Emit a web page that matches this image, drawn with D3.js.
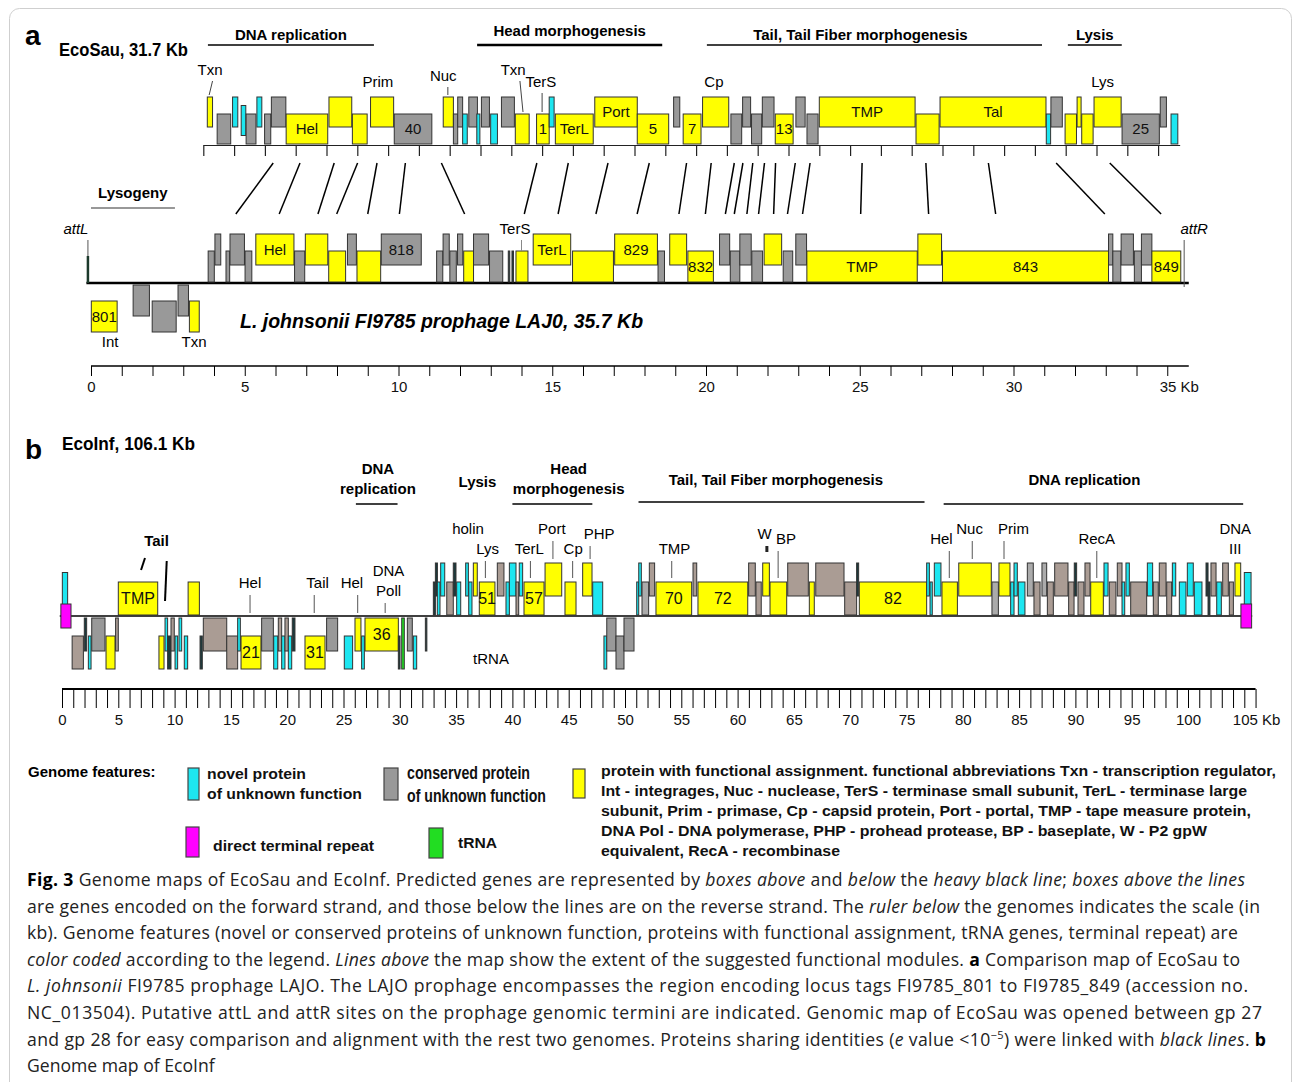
<!DOCTYPE html>
<html lang="en">
<head>
<meta charset="utf-8">
<title>Genome maps of EcoSau and EcoInf</title>
<script src="https://d3js.org/d3.v7.min.js"></script>
<style>
  body { margin: 0; background: #fff; }
</style>
</head>
<body>
<script>
// ---------- data (positions in kb) ----------
// [start, end, tier, type, label]; tier >= 0 forward strand, < 0 reverse strand
var ecoSauGenes = [
  [0.13,0.30,1,'y'],[0.45,0.89,0,'g'],[0.95,1.12,1,'c'],[1.23,1.38,0.5,'c'],[1.39,1.71,0,'g'],
  [1.74,1.90,1,'c'],[1.99,2.19,0,'g'],[2.21,2.68,1,'g'],[2.69,4.04,0,'y','Hel'],[4.08,4.82,1,'y'],
  [4.84,5.32,0,'y'],[5.43,6.18,1,'y'],[6.20,7.42,0,'g','40'],[7.79,8.12,1,'y'],[8.12,8.26,0,'g'],
  [8.26,8.42,1,'g'],[8.42,8.57,0,'c'],[8.62,8.90,1,'g'],[8.88,8.98,0,'c'],[9.03,9.29,1,'g'],
  [9.33,9.55,0,'c'],[9.68,10.10,1,'g'],[10.13,10.58,0,'y'],[10.82,11.23,0,'y','1'],[11.23,11.39,1,'c'],
  [11.43,12.66,0,'y','TerL'],[12.71,14.09,1,'y','Port'],[14.09,15.11,0,'y','5'],[15.27,15.47,1,'g'],
  [15.58,16.16,0,'y','7'],[16.21,17.06,1,'y'],[17.13,17.48,0,'g'],[17.51,17.77,1,'g'],[17.80,18.13,0,'g'],
  [18.15,18.53,1,'g'],[18.57,19.15,0,'y','13'],[19.24,19.54,1,'g'],[19.60,19.96,0,'g'],
  [20.00,23.11,1,'y','TMP'],[23.14,23.89,0,'y'],[23.92,27.36,1,'y','Tal'],[27.37,27.51,0,'c'],
  [27.52,27.89,1,'g'],[27.98,28.35,0,'y'],[28.37,28.50,1,'y'],[28.52,28.89,0,'y'],[28.92,29.80,1,'y'],
  [29.83,31.04,0,'g','25'],[31.07,31.27,1,'g'],[31.42,31.64,0,'c']
];

var lajGenes = [
  [0.01,0.85,-2,'y','801'],[1.37,1.90,-1,'g'],[1.99,2.77,-2,'g'],[2.83,3.17,-1,'g'],[3.20,3.52,-2,'y'],
  [3.81,4.01,0,'g'],[4.03,4.22,1,'g'],[4.39,4.51,0,'g'],[4.52,4.99,1,'g'],[5.01,5.23,0,'g'],
  [5.36,6.60,1,'y','Hel'],[6.62,6.95,0,'g'],[6.97,7.70,1,'y'],[7.73,8.28,0,'y'],[8.34,8.63,1,'g'],
  [8.65,9.42,0,'y'],[9.44,10.74,1,'g','818'],[11.24,11.44,0,'g'],[11.45,11.65,1,'g'],[11.67,11.88,0,'g'],
  [11.92,12.09,1,'g'],[12.12,12.44,0,'y'],[12.44,12.93,1,'g'],[12.96,13.39,0,'g'],[13.57,13.61,0,'k'],
  [13.69,13.73,0,'k'],[13.82,14.21,0,'y'],[14.38,15.60,1,'y','TerL'],[15.66,16.99,0,'y'],
  [17.03,18.42,1,'y','829'],[18.44,18.65,0,'g'],[18.82,19.37,1,'y'],[19.41,20.24,0,'y','832'],
  [20.44,20.77,1,'g'],[20.79,21.10,0,'g'],[21.10,21.47,1,'g'],[21.49,21.84,0,'g'],[21.89,22.46,1,'y'],
  [22.51,22.82,0,'g'],[22.92,23.27,1,'g'],[23.28,26.87,0,'y','TMP'],[26.89,27.66,1,'y'],
  [27.69,33.09,0,'y','843'],[33.09,33.23,1,'g'],[33.23,33.49,0,'g'],[33.50,33.90,1,'g'],
  [33.93,34.16,0,'g'],[34.16,34.50,1,'g'],[34.50,35.44,0,'y','849']
];

var ecoInfGenes = [
  [0.03,0.50,0.5,'c'],[5.0,8.5,0,'y','TMP'],[11.2,12.2,0,'y'],
  [32.98,33.16,0,'k'],[33.16,33.34,1,'k'],[33.33,33.57,0,'c'],[33.63,33.99,1,'c'],[34.17,34.75,0,'t'],
  [34.75,34.99,1,'k'],[35.05,35.41,0,'c'],[35.85,36.09,1,'c'],[36.12,36.41,0,'c'],[36.53,36.88,1,'y'],
  [37.06,38.45,0,'y','51'],[38.66,39.25,1,'t'],[39.43,39.73,0,'c'],[39.73,40.32,1,'c'],[40.32,40.56,0,'t'],
  [40.61,40.91,1,'c'],[41.03,42.81,0,'y','57'],[42.90,44.38,1,'y'],[44.67,45.65,0,'y'],[46.24,47.07,1,'y'],
  [47.13,48.02,0,'c'],
  [51.04,51.22,0,'c'],[51.22,51.45,1,'c'],[51.51,52.10,0,'lg'],[52.16,52.63,1,'t'],[52.75,55.92,0,'y','70'],
  [56.04,56.37,1,'t'],[56.48,60.90,0,'y','72'],[60.98,61.57,1,'t'],[61.63,62.10,0,'t'],[62.23,62.82,1,'y'],
  [62.88,64.36,0,'y'],[64.45,66.28,1,'t'],[66.37,66.81,0,'y'],[66.94,69.45,1,'t'],[69.51,70.57,0,'t'],
  [70.57,70.75,1,'k'],[70.81,76.79,0,'y','82'],[76.79,77.03,1,'c'],[77.09,77.29,0,'c'],[77.47,78.06,1,'c'],
  [78.15,79.52,0,'y'],[79.64,82.53,1,'y'],[82.59,83.16,0,'lg'],[83.21,84.19,1,'y'],[84.25,84.55,0,'c'],
  [84.55,84.84,1,'c'],[84.93,85.52,0,'c'],[85.73,86.26,1,'lg'],[86.32,86.86,0,'t'],[87.03,87.45,1,'lg'],
  [87.51,88.04,0,'t'],[88.16,89.34,1,'t'],[89.40,89.88,0,'t'],[89.90,90.11,1,'k'],[90.23,90.76,0,'t'],
  [90.85,91.30,1,'t'],[91.36,92.48,0,'y'],[92.54,92.90,1,'c'],[93.01,93.60,0,'t'],[93.72,94.14,1,'t'],
  [94.14,94.38,0,'c'],[94.49,94.79,1,'c'],[94.91,96.33,0,'t'],[96.39,96.86,1,'c'],[96.92,97.36,0,'t'],
  [97.45,98.05,1,'t'],[98.11,98.55,0,'t'],[98.61,98.91,1,'c'],[99.23,99.82,0,'c'],[99.94,100.47,1,'c'],
  [100.56,101.24,0,'c'],[101.60,101.78,1,'k'],[101.78,101.95,0,'k'],[102.04,102.49,1,'t'],
  [102.55,102.96,0,'c'],[103.08,103.58,1,'t'],[103.67,104.03,0,'t'],[104.17,104.68,1,'y'],
  [105.0,105.6,0.5,'c'],
  // reverse strand
  [0.9,1.9,-2,'t'],[1.98,2.19,-1,'k'],[2.34,2.58,-2,'c'],[2.64,3.82,-1,'g'],[3.91,4.71,-2,'y'],
  [4.76,5.0,-1,'t'],[8.61,9.06,-2,'y'],[9.15,9.38,-1,'c'],[9.38,9.68,-2,'k'],[9.68,9.97,-1,'t'],
  [10.04,10.27,-2,'c'],[10.39,10.63,-1,'c'],[10.86,11.16,-2,'c'],[12.26,12.46,-2,'k'],
  [12.55,14.63,-1,'t'],[14.63,15.60,-2,'t'],[15.60,15.84,-1,'c'],[15.90,17.67,-2,'y','21'],
  [17.73,18.77,-1,'g'],[18.80,19.16,-2,'c'],[19.21,19.51,-1,'t'],[19.51,19.80,-2,'c'],[19.80,20.10,-1,'t'],
  [20.10,20.40,-2,'c'],[20.45,20.69,-1,'k'],[21.58,23.36,-2,'y','31'],[23.50,24.48,-1,'g'],
  [25.07,25.81,-2,'c'],[26.02,26.55,-1,'y'],[26.61,26.85,-2,'c'],[26.91,29.87,-1,'y','36'],
  [29.87,30.02,-2,'k'],[30.17,30.40,-1,'r'],[30.67,31.11,-1,'g'],[31.20,31.50,-2,'c'],[32.27,32.35,-1,'k'],
  [48.13,48.38,-2,'c'],[48.38,49.20,-1,'g'],[49.20,49.91,-2,'g'],[49.91,50.80,-1,'g'],
  // direct terminal repeats
  [-0.1,0.8,0,'m'],[104.7,105.65,0,'m']
];

// [EcoSau kb, LAJ0 kb]
var links = [
  [2.27,4.71],[3.14,6.12],[4.25,7.38],[5.01,7.99],[5.64,9.00],[6.56,10.03],[7.73,12.15],
  [10.83,14.09],[11.85,15.19],[13.14,16.42],[14.48,17.76],[15.69,19.12],[16.49,19.98],
  [17.24,20.63],[17.52,20.92],[17.84,21.33],[18.22,21.71],[18.58,22.20],[19.22,22.65],
  [19.70,23.14],[21.39,25.03],[23.46,27.24],[25.49,29.42],[27.69,32.97],[29.43,34.80]
];

// module name, line start kb, line end kb
var modulesA = [
  ["DNA replication",0.15,5.54],["Head morphogenesis",8.89,14.9],
  ["Tail, Tail Fiber morphogenesis",16.35,27.23],["Lysis",28.07,29.82]
];
// text lines, text kb, line start kb, line end kb
var modulesB = [
  [["DNA","replication"],28.06,26.1,29.8],[["Lysis"],36.9,null,null],
  [["Head","morphogenesis"],45.0,40.0,47.1],[["Tail, Tail Fiber morphogenesis"],63.4,51.2,76.6],
  [["DNA replication"],90.8,78.3,104.9]
];
var lysogeny = ["Lysogeny",1.36,0,2.73];
var attSites = [["attL",-0.1],["attR",35.55]];

// label, text kb, row, leader top kb, leader bottom kb, target tier
var annEco = [
  ["Txn",0.22,2,0.30,0.19,1],["Prim",5.67,0],["Nuc",7.79,1,7.94,7.94,1],
  ["Txn",10.06,2,10.28,10.38,0],["TerS",10.96,0,11.0,11.0,0],["Cp",16.58,0],["Lys",29.2,0]
];
var annLaj = [["TerS",13.79,14.0]];
var annLajBelow = [["Int",0.62],["Txn",3.35]];
// label lines, text kb, row, leader kb, target ('b' = backbone, number = tier)
var annInf = [
  [["Hel"],16.7,5,16.7,'b'],[["Tail"],22.7,5,22.4,'b'],[["Hel"],25.75,5,26.26,'b'],
  [["DNA","Poll"],29.0,4,28.7,'b'],[["holin"],36.06,0,null],[["Lys"],37.8,3,37.6,0],
  [["TerL"],41.5,3,41.6,0],[["Port"],43.5,0,43.6,1],[["Cp"],45.4,3,45.35,0],[["PHP"],47.7,1,46.9,1],
  [["TMP"],54.4,3,54.15,0],[["W"],62.4,1,62.6,1],[["BP"],64.3,2,63.6,0],[["Hel"],78.1,2,78.8,0],
  [["Nuc"],80.6,0,80.84,1],[["Prim"],84.5,0,83.66,1],[["RecA"],91.9,2,91.9,0],[["DNA","III"],104.2,0,null]
];
var tailLeaders = [[7.37,7.02],[9.3,9.15]];

var rulerATicks = d3.range(0, 36);
var rulerBTicks = d3.range(0, 107);

var legendItems = [
  ['c',["novel protein","of unknown function"]],
  ['g',["conserved protein","of unknown function"]],
  ['y',["protein with functional assignment. functional abbreviations Txn - transcription regulator,",
        "Int - integrages, Nuc - nuclease, TerS - terminase small subunit, TerL - terminase large",
        "subunit,  Prim - primase, Cp - capsid protein, Port - portal, TMP - tape measure protein,",
        "DNA Pol - DNA polymerase, PHP - prohead protease, BP - baseplate, W - P2 gpW",
        "equivalent, RecA - recombinase"]],
  ['m',["direct terminal repeat"]],
  ['r',["tRNA"]]
];

var captionLines = [
  [["Fig. 3","b"],["  Genome maps of EcoSau and EcoInf. Predicted genes are represented by ",""],["boxes above","i"],[" and ",""],["below","i"],[" the ",""],["heavy black line","i"],["; ",""],["boxes above the lines","i"]],
  [["are genes encoded on the forward strand, and those below the lines are on the reverse strand. The ",""],["ruler below","i"],[" the genomes indicates the scale (in",""]],
  [["kb). Genome features (novel or conserved proteins of unknown function, proteins with functional assignment, tRNA genes, terminal repeat) are",""]],
  [["color coded","i"],[" according to the legend. ",""],["Lines above","i"],[" the map show the extent of the suggested functional modules. ",""],["a","b"],[" Comparison map of EcoSau to",""]],
  [["L. johnsonii","i"],[" FI9785 prophage LAJO. The LAJO prophage encompasses the region encoding locus tags FI9785_801 to FI9785_849 (accession no.",""]],
  [["NC_013504). Putative attL and attR sites on the prophage genomic termini are indicated. Genomic map of EcoSau was opened between gp 27",""]],
  [["and gp 28 for easy comparison and alignment with the rest two genomes. Proteins sharing identities (",""],["e","i"],[" value <10",""],["\u22125","sup"],[") were linked with ",""],["black lines","i"],[". ",""],["b","b"]],
  [["Genome map of EcoInf",""]]
];

// ---------- drawing ----------
var W = 1295, H = 1082;
var sans = "'Liberation Sans', Arial, sans-serif";
var narrow = "'Liberation Sans Narrow', 'Arial Narrow', 'Liberation Sans', sans-serif";
var fill = {y:"#ffff00", c:"#1de6f0", g:"#999999", t:"#aa9c94", lg:"#ababab", k:"#1c3a3c", m:"#ff00ff", r:"#22dd22"};

var svg = d3.select("body").append("svg").attr("width", W).attr("height", H)
  .style("font-family", sans);

svg.append("rect").attr("x", 9.5).attr("y", 8.5).attr("width", 1282).attr("height", 1100)
  .attr("rx", 10).attr("fill", "none").attr("stroke", "#cfcfcf");

var xEco = d3.scaleLinear().domain([0, 31.7]).range([203.3, 203.3 + 31.7 * 30.8]);
var xLaj = d3.scaleLinear().domain([0, 35]).range([91, 91 + 35 * 30.75]);
var xInf = d3.scaleLinear().domain([0, 105]).range([62, 62 + 105 * 11.26]);

var cfgEco = {base: 145, h: 30, step: 17, rstep: 16, fs: 15};
var cfgLaj = {base: 283, h: 31, step: 17, rstep: 16, fs: 15};
var cfgInf = {base: 616, h: 33, step: 19, rstep: 18, fs: 16};

function tierTop(t, cfg) {
  if (t >= 0) return cfg.base - 1 - cfg.h - t * cfg.step;
  return cfg.base + 2 + (-t - 1) * cfg.rstep;
}

function drawGenes(genes, x, cfg) {
  var g = svg.append("g");
  g.selectAll("rect").data(genes).enter().append("rect")
    .attr("x", function(d) { return x(d[0]); })
    .attr("width", function(d) { return Math.max(1.5, x(d[1]) - x(d[0])); })
    .attr("y", function(d) { return d[3] == 'm' ? cfg.base - 12 : tierTop(d[2], cfg); })
    .attr("height", function(d) {
      if (d[3] == 'm') return 24;
      if (d[3] == 'r') return cfg.h + cfg.rstep;
      return cfg.h;
    })
    .attr("fill", function(d) { return fill[d[3]]; })
    .attr("stroke", "#333").attr("stroke-width", 1);
  g.selectAll("text").data(genes.filter(function(d) { return d[4]; })).enter().append("text")
    .attr("x", function(d) { return (x(d[0]) + x(d[1])) / 2; })
    .attr("y", function(d) { return tierTop(d[2], cfg) + cfg.h / 2 + cfg.fs * 0.36; })
    .attr("text-anchor", "middle").attr("font-size", cfg.fs).attr("fill", "#111")
    .text(function(d) { return d[4]; });
}

function line(x1, y1, x2, y2, w, c) {
  return svg.append("line").attr("x1", x1).attr("y1", y1).attr("x2", x2).attr("y2", y2)
    .attr("stroke", c || "#000").attr("stroke-width", w || 1);
}
function label(txt, x, y, size, opts) {
  opts = opts || {};
  return svg.append("text").attr("x", x).attr("y", y).attr("font-size", size)
    .attr("text-anchor", opts.anchor || "middle")
    .attr("font-weight", opts.bold ? "bold" : null)
    .attr("font-style", opts.italic ? "italic" : null)
    .attr("font-family", opts.family || sans)
    .text(txt);
}

// ===== panel a =====
label("a", 25, 45, 28, {bold: true, anchor: "start"});
label("EcoSau, 31.7 Kb", 59, 56, 19, {bold: true, anchor: "start", family: narrow})
  .attr("textLength", 129).attr("lengthAdjust", "spacingAndGlyphs");

modulesA.forEach(function(m, i) {
  var mid = (xEco(m[1]) + xEco(m[2])) / 2;
  if (i == 2) mid -= 14;
  label(m[0], mid, i == 1 ? 36 : 40, 15, {bold: true});
  line(xEco(m[1]), 45, xEco(m[2]), 45, i == 1 ? 2.5 : 1.3);
});

// EcoSau backbone with kb ticks
svg.append("g").attr("transform", "translate(0," + cfgEco.base + ")")
  .call(d3.axisBottom(xEco).tickValues(d3.range(0, 32)).tickFormat("").tickSize(11).tickSizeOuter(0))
  .call(function(a) { a.selectAll("path,line").attr("stroke", "#222").attr("stroke-width", 1.2); });
drawGenes(ecoSauGenes, xEco, cfgEco);

var rowEco = [87, 81, 75];
annEco.forEach(function(a) {
  var y = rowEco[a[2]];
  label(a[0], xEco(a[1]), y, 15);
  if (a[3] != null) line(xEco(a[3]), y + 6, xEco(a[4]), tierTop(a[5], cfgEco) - 2, 1, "#444");
});

// links between EcoSau and LAJ0
svg.append("g").selectAll("line").data(links).enter().append("line")
  .attr("x1", function(d) { return xEco(d[0]); }).attr("y1", 163)
  .attr("x2", function(d) { return xLaj(d[1]); }).attr("y2", 214)
  .attr("stroke", "#000").attr("stroke-width", 1.5);

// LAJ0 prophage
label(lysogeny[0], xLaj(lysogeny[1]), 198, 15, {bold: true});
line(xLaj(lysogeny[2]), 208, xLaj(lysogeny[3]), 208, 1.2, "#333");
line(xLaj(-0.15), cfgLaj.base, xLaj(35.7), cfgLaj.base, 2.5);
drawGenes(lajGenes, xLaj, cfgLaj);
attSites.forEach(function(s, i) {
  label(s[0], xLaj(s[1]) + (i == 0 ? -12 : 10), 234, 15, {italic: true});
  line(xLaj(s[1]), 240, xLaj(s[1]), cfgLaj.base + (i == 0 ? 0 : 4), 1, "#555");
  if (i == 0) line(xLaj(s[1]), 256, xLaj(s[1]), cfgLaj.base, 2.5, "#1c3a2c");
});
annLaj.forEach(function(a) {
  label(a[0], xLaj(a[1]), 234, 15);
  line(xLaj(a[2]), 240, xLaj(a[2]), tierTop(0, cfgLaj), 1, "#888");
});
annLajBelow.forEach(function(a) { label(a[0], xLaj(a[1]), 347, 15); });
label("L. johnsonii FI9785 prophage LAJ0, 35.7 Kb", 240, 328, 19.5, {bold: true, italic: true, anchor: "start"});

// ruler a
var axA = svg.append("g").attr("transform", "translate(0,366)")
  .call(d3.axisBottom(xLaj).tickValues(rulerATicks).tickSize(10).tickPadding(5).tickSizeOuter(0)
    .tickFormat(function(d) { return d % 5 ? "" : d; }));
axA.select(".domain").attr("d", "M" + xLaj(0) + ",0H" + xLaj(35.7)).attr("stroke-width", 1.3);
axA.selectAll("text").attr("font-size", 15).attr("font-family", narrow).attr("fill", "#111");
axA.selectAll(".tick").filter(function(d) { return d == 35; }).select("text")
  .attr("text-anchor", "start").attr("x", -8).text("35 Kb");

// ===== panel b =====
label("b", 25, 459, 28, {bold: true, anchor: "start"});
label("EcoInf, 106.1 Kb", 62, 450, 19, {bold: true, anchor: "start", family: narrow})
  .attr("textLength", 133).attr("lengthAdjust", "spacingAndGlyphs");

modulesB.forEach(function(m, i) {
  var n = m[0].length;
  var y0 = n == 2 ? 474 : (i == 1 ? 487 : 485);
  m[0].forEach(function(t, j) { label(t, xInf(m[1]), y0 + j * 20, 15, {bold: true}); });
  if (m[2] != null) line(xInf(m[2]), i == 3 ? 502 : 504, xInf(m[3]), i == 3 ? 502 : 504, 1.3);
});

line(xInf(-0.2), cfgInf.base, xInf(105.7), cfgInf.base, 1.4);
drawGenes(ecoInfGenes, xInf, cfgInf);

var rowInf = [534, 539, 544, 554, 576, 588];
annInf.forEach(function(a) {
  var y = rowInf[a[2]];
  a[0].forEach(function(t, j) { label(t, xInf(a[1]), y + j * 20, 15); });
  if (a[3] != null) {
    var yb = y + (a[0].length - 1) * 20 + 7;
    var ye = a[4] == 'b' ? cfgInf.base - 3 : tierTop(a[4], cfgInf) - 4;
    if (a[0][0] == "W") line(xInf(a[3]), yb, xInf(a[3]), yb + 6, 3, "#222");
    else line(xInf(a[3]), yb, xInf(a[3]), ye, 1, "#555");
  }
});
label("Tail", xInf(8.4), 546, 15, {bold: true});
line(xInf(tailLeaders[0][0]), 558, xInf(tailLeaders[0][1]), 570, 2);
line(xInf(tailLeaders[1][0]), 561, xInf(tailLeaders[1][1]), 601, 2);
label("tRNA", xInf(38.1), 664, 15);

// ruler b
var axB = svg.append("g").attr("transform", "translate(0,689)")
  .call(d3.axisBottom(xInf).tickValues(rulerBTicks).tickSize(19).tickPadding(6).tickSizeOuter(0)
    .tickFormat(function(d) { return d % 5 ? "" : d; }));
axB.select(".domain").attr("d", "M" + xInf(0) + ",0H" + xInf(106)).attr("stroke-width", 2);
axB.selectAll(".tick line").attr("stroke-width", 1);
axB.selectAll("text").attr("font-size", 15).attr("font-family", narrow).attr("fill", "#111");
axB.selectAll(".tick").filter(function(d) { return d == 105; }).select("text")
  .attr("text-anchor", "start").attr("x", -12).text("105 Kb");

// ===== legend =====
label("Genome features:", 28, 777, 15, {bold: true, anchor: "start"});
var legPos = [
  {bx: 188, by: 768, bw: 11, bh: 32, tx: 207, ty: 779, size: 15, family: sans, lens: [99, 155]},
  {bx: 384, by: 768, bw: 14, bh: 32, tx: 407, ty: 779, size: 18, family: narrow, lens: [123, 139]},
  {bx: 573, by: 769, bw: 12, bh: 29, tx: 601, ty: 776, size: 14.5, family: sans, lens: [675, 646, 650, 606, 239]},
  {bx: 186, by: 827, bw: 13, bh: 30, tx: 213, ty: 851, size: 15, family: sans, lens: [161]},
  {bx: 429, by: 828, bw: 14, bh: 30, tx: 458, ty: 848, size: 15, family: sans, lens: [39]}
];
legendItems.forEach(function(it, i) {
  var p = legPos[i];
  svg.append("rect").attr("x", p.bx).attr("y", p.by).attr("width", p.bw).attr("height", p.bh)
    .attr("fill", fill[it[0]]).attr("stroke", "#444").attr("stroke-width", 1.2);
  var lh = i == 1 ? 23 : 20;
  it[1].forEach(function(t, j) {
    label(t, p.tx, p.ty + j * lh, p.size, {bold: true, anchor: "start", family: p.family})
      .attr("textLength", p.lens[j]).attr("lengthAdjust", "spacingAndGlyphs").attr("fill", "#111");
  });
});

// ===== caption =====
var capEnd = [1245, 1260, 1238, 1240, 1248, 1262, 1266, null];
captionLines.forEach(function(segs, i) {
  var t = svg.append("text").attr("x", 27).attr("y", 886 + i * 26.6)
    .attr("font-family", "'Open Sans', 'Noto Sans', sans-serif").attr("font-size", 17.6).attr("fill", "#222");
  segs.forEach(function(s) {
    var sp = t.append("tspan").text(s[0]);
    if (s[1] == "b") sp.attr("font-weight", "bold").attr("fill", "#000");
    if (s[1] == "i") sp.attr("font-style", "italic");
    if (s[1] == "sup") sp.attr("font-size", 11).attr("baseline-shift", "super");
  });
  if (capEnd[i]) t.attr("textLength", capEnd[i] - 27).attr("lengthAdjust", "spacing");
});
</script>
</body>
</html>
